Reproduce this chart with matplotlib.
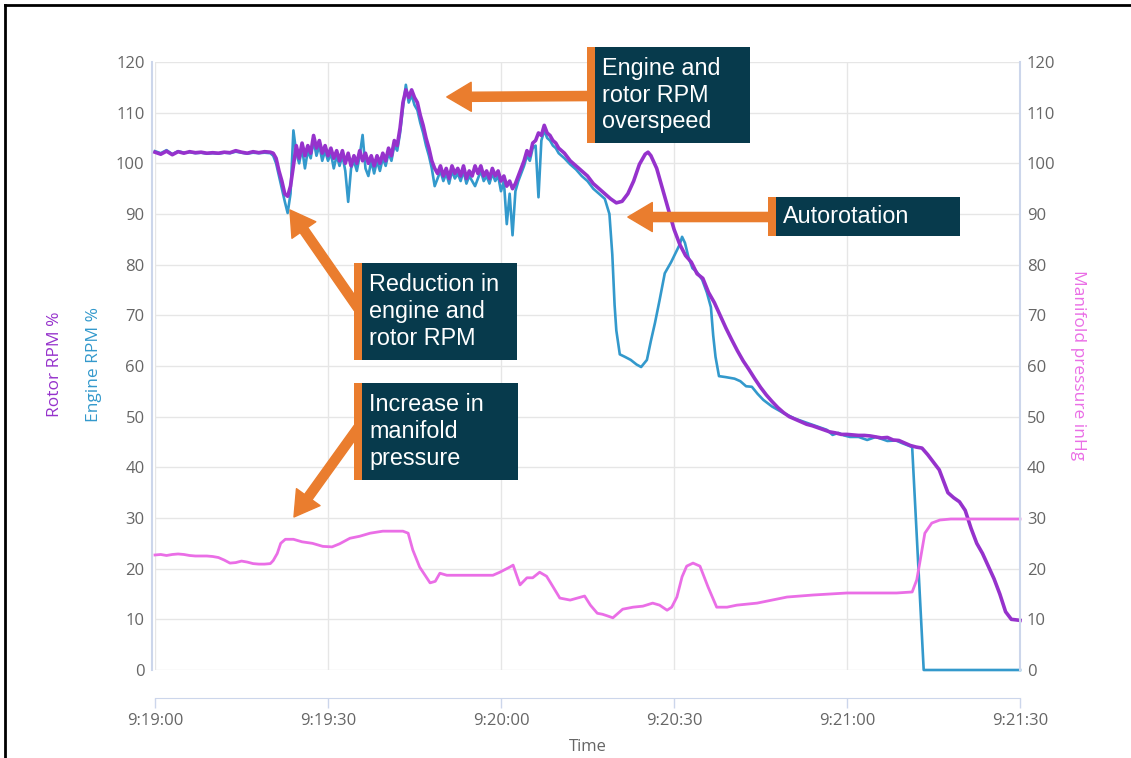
import matplotlib.pyplot as plt
from matplotlib.transforms import Affine2D
from matplotlib.patches import Rectangle
from matplotlib.lines import Line2D

# time is seconds after 9:19:00
rotor = [
    (0, 102.2), (1, 101.8), (2, 102.4), (3, 101.7), (4, 102.3), (5, 102.0), (6, 102.3),
    (7, 102.1), (8, 102.2), (9, 102.0), (10, 102.1), (11, 102.0), (12, 102.2), (13, 102.1),
    (14, 102.5), (15, 102.2), (16, 102.0), (17, 102.3), (18, 102.1), (19, 102.3), (20, 102.2),
    (20.5, 102.0), (21, 101.0), (21.5, 98.5), (22, 96.5), (22.5, 94.0), (23, 93.5), (23.5, 95.5),
    (24, 99.5), (24.5, 103.5), (25, 101.0), (25.5, 104.0), (26, 101.5), (26.5, 103.5),
    (27, 102.0), (27.5, 105.5), (28, 103.0), (28.5, 104.5), (29, 102.0), (29.5, 103.5),
    (30, 101.5), (30.5, 103.0), (31, 101.0), (31.5, 102.5), (32, 100.5), (32.5, 102.5),
    (33, 100.0), (33.5, 102.0), (34, 99.5), (34.5, 101.5), (35, 100.0), (35.5, 102.5),
    (36, 100.5), (36.5, 102.0), (37, 100.0), (37.5, 101.5), (38, 99.5), (38.5, 101.5),
    (39, 100.0), (39.5, 102.0), (40, 100.5), (40.5, 103.0), (41, 101.5), (41.5, 104.5),
    (42, 103.5), (42.5, 107.0), (43, 112.0), (43.5, 114.5), (44, 113.0), (44.5, 114.5),
    (45, 113.0), (45.5, 112.0), (46, 109.5), (46.5, 107.5), (47, 105.0), (47.5, 103.0),
    (48, 100.5), (48.5, 99.0), (49, 98.0), (49.5, 99.5), (50, 97.5), (50.5, 99.0),
    (51, 97.0), (51.5, 99.5), (52, 98.0), (52.5, 99.0), (53, 97.5), (53.5, 99.5),
    (54, 97.0), (54.5, 98.5), (55, 97.5), (55.5, 99.5), (56, 98.0), (56.5, 99.5),
    (57, 97.5), (57.5, 98.5), (58, 97.0), (58.5, 99.0), (59, 97.5), (59.5, 98.5),
    (60, 96.5), (60.5, 97.5), (61, 95.5), (61.5, 96.5), (62, 95.0), (62.5, 96.0),
    (63, 97.5), (63.5, 99.0), (64, 100.5), (64.5, 102.5), (65, 101.5), (65.5, 104.0),
    (66, 104.5), (66.5, 106.0), (67, 105.5), (67.5, 107.5), (68, 106.0), (68.5, 105.5),
    (69, 104.5), (69.5, 104.0), (70, 103.0), (71, 102.0), (72, 100.5), (73, 99.5),
    (74, 98.5), (75, 97.5), (76, 96.0), (77, 95.0), (78, 94.0), (79, 93.0), (80, 92.2),
    (81, 92.5), (82, 94.0), (83, 96.5), (84, 99.8), (85, 101.8), (85.5, 102.2), (86, 101.5),
    (87, 99.0), (88, 95.0), (89, 91.0), (90, 87.0), (91, 84.0), (92, 81.8), (93, 80.5),
    (94, 78.2), (95, 77.3), (96, 74.5), (97, 72.5), (98, 70.0), (99, 67.5), (100, 65.2),
    (101, 63.0), (102, 61.0), (103, 59.3), (104, 57.5), (105, 55.8), (106, 54.3),
    (107, 53.0), (108, 51.8), (109, 50.8), (110, 50.0), (111, 49.5), (112, 49.0),
    (113, 48.5), (114, 48.2), (115, 47.8), (116, 47.4), (117, 47.0), (118, 46.8),
    (119, 46.5), (120, 46.5), (121, 46.4), (122, 46.3), (123, 46.3), (124, 46.2),
    (125, 46.0), (126, 45.8), (127, 45.9), (128, 45.4), (129, 45.3), (130, 44.8),
    (131, 44.3), (132, 44.0), (133, 43.8), (134, 42.5), (135, 41.0), (136, 39.5),
    (137, 36.5), (137.5, 35.0), (138.5, 34.0), (139.5, 33.2), (140.5, 31.5), (141.5, 28.0),
    (142.5, 25.0), (143.5, 23.0), (144.5, 20.5), (145.5, 18.0), (146.5, 15.0),
    (147.5, 11.5), (148.5, 10.0), (150, 9.8),
]

engine = [
    (0, 102.4), (1, 102.0), (2, 102.6), (3, 101.8), (4, 102.4), (5, 102.1), (6, 102.2),
    (7, 102.0), (8, 102.1), (9, 101.9), (10, 102.0), (11, 101.9), (12, 102.1), (13, 102.0),
    (14, 102.3), (15, 102.1), (16, 101.9), (17, 102.1), (18, 102.0), (19, 102.1),
    (20, 102.0), (20.5, 101.5), (21, 100.0), (21.5, 97.5), (22, 95.0), (22.5, 92.5),
    (23, 90.2), (23.5, 94.0), (24, 106.5), (24.5, 102.0), (25, 100.0), (25.5, 103.0),
    (26, 99.0), (26.5, 102.5), (27, 101.0), (27.5, 104.5), (28, 101.5), (28.5, 103.5),
    (29, 100.5), (29.5, 102.5), (30, 100.5), (30.5, 102.0), (31, 99.0), (31.5, 101.5),
    (32, 99.5), (32.5, 101.5), (33, 98.5), (33.5, 92.4), (34, 99.0), (34.5, 100.5),
    (35, 98.5), (35.5, 101.5), (36, 105.6), (36.5, 99.0), (37, 97.5), (37.5, 100.5),
    (38, 98.0), (38.5, 100.5), (39, 98.5), (39.5, 101.0), (40, 99.5), (40.5, 102.0),
    (41, 100.5), (41.5, 103.5), (42, 102.5), (42.5, 106.0), (43, 111.0), (43.5, 115.5),
    (44, 112.0), (44.5, 113.5), (45, 111.5), (45.5, 110.5), (46, 108.0), (46.5, 106.0),
    (47, 103.5), (47.5, 101.5), (48, 99.0), (48.5, 95.5), (49, 97.0), (49.5, 98.5),
    (50, 96.5), (50.5, 98.0), (51, 96.0), (51.5, 98.5), (52, 97.0), (52.5, 98.0),
    (53, 96.5), (53.5, 98.5), (54, 96.0), (54.5, 97.5), (55, 96.5), (55.5, 95.5),
    (56, 97.0), (56.5, 98.5), (57, 96.5), (57.5, 97.5), (58, 96.0), (58.5, 98.0),
    (59, 96.5), (59.5, 97.5), (60, 94.5), (60.5, 96.5), (61, 88.0), (61.5, 94.0),
    (62, 85.8), (62.5, 94.5), (63, 96.5), (63.5, 98.0), (64, 99.5), (64.5, 101.5),
    (65, 100.5), (65.5, 103.0), (66, 103.5), (66.5, 93.3), (67, 104.5), (67.5, 106.5),
    (68, 105.0), (68.5, 104.5), (69, 103.5), (69.5, 103.0), (70, 102.0), (71, 101.0),
    (72, 99.8), (73, 98.8), (74, 97.5), (75, 96.5), (76, 95.0), (77, 94.0), (78, 93.0),
    (78.8, 90.0), (79.3, 82.0), (79.7, 72.0), (80, 67.0), (80.6, 62.3), (81.5, 61.8),
    (82.5, 61.2), (83.5, 60.3), (84.3, 59.8), (85.3, 61.2), (86, 65.0), (86.7, 68.5),
    (87.5, 73.0), (88.4, 78.3), (89.5, 80.5), (90.1, 81.9), (91, 84.0), (91.4, 85.5),
    (91.9, 84.3), (92.5, 81.5), (93.2, 79.3), (94, 78.5), (94.9, 77.0), (95.7, 74.5),
    (96.4, 71.6), (96.8, 66.0), (97.2, 61.8), (97.8, 58.0), (99, 57.8), (100.5, 57.5),
    (101.5, 57.0), (102.5, 56.0), (103.5, 55.9), (104.5, 54.5), (105.5, 53.3),
    (107, 52.0), (109, 50.7), (111, 49.6), (113, 48.8), (115, 48.0), (116.5, 47.4),
    (117.5, 46.4), (118.5, 46.8), (119.5, 46.3), (120.5, 46.0), (122, 46.0),
    (123.5, 45.4), (125, 46.0), (126, 45.6), (127, 45.2), (128.5, 45.3), (129.5, 44.8),
    (131.3, 44.0), (133.3, 0.0), (150, 0.0),
]

manifold = [
    (0, 22.7), (1, 22.8), (2, 22.6), (3, 22.8), (4, 22.9), (5, 22.8), (6, 22.6), (7, 22.5),
    (8, 22.5), (9, 22.5), (10, 22.4), (11, 22.2), (12, 21.7), (13, 21.1), (14, 21.2),
    (15, 21.5), (16, 21.3), (17, 21.0), (18, 20.9), (19, 20.9), (20, 21.0), (20.5, 21.6),
    (21.2, 23.0), (21.8, 25.0), (22.6, 25.8), (24, 25.8), (25.5, 25.3), (27.3, 25.0),
    (29.1, 24.4), (30.7, 24.3), (32, 24.9), (33.8, 26.0), (35.5, 26.4), (37.3, 27.0),
    (39.5, 27.4), (43, 27.4), (43.9, 27.0), (44.7, 23.7), (45.9, 20.3), (47.7, 17.2),
    (48.6, 17.5), (49.4, 19.1), (50.6, 18.7), (58.6, 18.7), (59.8, 19.3), (61.5, 20.3),
    (62.1, 20.7), (62.8, 18.4), (63.3, 16.8), (64.5, 18.2), (65.5, 18.2), (66.7, 19.3),
    (67.9, 18.5), (68.5, 17.4), (70.2, 14.2), (72, 13.8), (74.5, 14.6), (75.5, 12.8),
    (76.7, 11.2), (77.6, 11.0), (78.4, 10.7), (79.4, 10.3), (81.1, 12.0), (82.9, 12.4),
    (84.6, 12.6), (86.3, 13.2), (87.5, 12.8), (88.8, 11.8), (89.6, 12.4), (90.5, 14.4),
    (91.4, 18.4), (92.2, 20.5), (93.3, 21.1), (94.5, 20.5), (95.9, 16.4), (97.4, 12.4),
    (99.2, 12.4), (100.9, 12.8), (104.4, 13.2), (109.6, 14.4), (114.1, 14.8),
    (120, 15.2), (128.6, 15.2), (131.3, 15.4), (132.1, 17.8), (132.7, 21.7),
    (133.5, 27.0), (134.7, 29.0), (136.1, 29.6), (138, 29.8), (150, 29.8),
]

x_ticks = [0, 30, 60, 90, 120, 150]
x_labels = ['9:19:00', '9:19:30', '9:20:00', '9:20:30', '9:21:00', '9:21:30']
y_ticks = list(range(0, 121, 10))

# callouts: text, box (x0, y0, x1, y1) in pixels from top-left, arrow tail px, arrow tip (time, value)
callouts = [
    ('Engine and\nrotor RPM\noverspeed', (587, 47, 750, 143), (592, 96), (50.6, 113.1)),
    ('Autorotation', (768, 197, 960, 236), (772, 217), (82.0, 89.4)),
    ('Reduction in\nengine and\nrotor RPM', (354, 263, 517, 360), (358, 308), (23.4, 90.8)),
    ('Increase in\nmanifold\npressure', (354, 383, 518, 480), (358, 428), (24.1, 30.2)),
]

W, H = 1131, 758
rotor_c = '#9632cc'
engine_c = '#3399cc'
map_c = '#ea6ee6'
axis_c = '#ccd6eb'
grid_c = '#e6e6e6'
text_c = '#666666'
box_c = '#073a4c'
orange = '#ea7d2e'

plt.rcParams['font.family'] = ['Open Sans', 'DejaVu Sans']

fig = plt.figure(figsize=(W / 100, H / 100), dpi=100)
ax = fig.add_axes([155 / W, 1 - 670 / H, (1020 - 155) / W, (670 - 62) / H])
ax2 = ax.twinx()

et, ev = zip(*engine)
rt, rv = zip(*rotor)
mt, mv = zip(*manifold)
ax.plot(et, ev, color=engine_c, lw=1.9, clip_on=False, zorder=3)
ax.plot(rt, rv, color=rotor_c, lw=2.6, clip_on=False, zorder=4)
ax2.plot(mt, mv, color=map_c, lw=2.0, clip_on=False)

for a in (ax, ax2):
    a.set_xlim(0, 150)
    a.set_ylim(0, 120)
    a.set_yticks(y_ticks)
    a.tick_params(axis='y', length=0, labelsize=12, labelcolor=text_c, pad=5)
    a.spines['top'].set_visible(False)

ax.set_xticks(x_ticks)
ax.set_xticklabels(x_labels)
ax.tick_params(axis='x', length=7, width=1, color=axis_c, labelsize=12, labelcolor=text_c, pad=4)
ax.grid(True, color=grid_c, lw=1)
ax.set_axisbelow(True)

ax.spines['bottom'].set_position(('outward', 20))
ax.spines['bottom'].set_color(axis_c)
ax.spines['left'].set_position(('outward', 2.5))
ax.spines['left'].set_color(axis_c)
ax.spines['left'].set_linewidth(1.5)
ax.spines['right'].set_visible(False)
ax2.spines['left'].set_visible(False)
ax2.spines['bottom'].set_visible(False)
ax2.spines['right'].set_color(axis_c)
ax2.spines['right'].set_linewidth(1.5)

ax.set_xlabel('Time', fontsize=12, color=text_c, labelpad=7)

fig.text(55 / W, 1 - 364 / H, 'Rotor RPM %', rotation=90, color=rotor_c,
         fontsize=12.5, ha='center', va='center')
fig.text(94 / W, 1 - 364 / H, 'Engine RPM %', rotation=90, color=engine_c,
         fontsize=12.5, ha='center', va='center')
fig.text(1078 / W, 1 - 365 / H, 'Manifold pressure inHg', rotation=270, color=map_c,
         fontsize=12.5, ha='center', va='center')

# pixel coordinates, origin top-left
px = Affine2D().scale(1 / W, -1 / H).translate(0, 1) + fig.transFigure

for text, (x0, y0, x1, y1), (tx, ty), tip in callouts:
    ax.annotate('', xy=tip, xycoords='data', xytext=(tx, H - ty), textcoords='figure pixels',
                arrowprops=dict(arrowstyle='simple,head_length=0.8,head_width=0.95,tail_width=0.3',
                                mutation_scale=22, color=orange, shrinkA=0, shrinkB=0),
                zorder=6)
    fig.patches.append(Rectangle((x0, y0), x1 - x0, y1 - y0, transform=px,
                                 facecolor=box_c, edgecolor='none', zorder=7))
    fig.patches.append(Rectangle((x0, y0), 8, y1 - y0, transform=px,
                                 facecolor=orange, edgecolor='none', zorder=8))
    fig.text((x0 + 15) / W, 1 - (y0 + y1) / 2 / H, text, color='white', fontsize=16.8,
             family=['Liberation Sans', 'DejaVu Sans'], ha='left', va='center',
             linespacing=1.2, zorder=9)

# page frame
fig.add_artist(Line2D([5, 5], [5, H], transform=px, color='black', lw=2))
fig.add_artist(Line2D([5, W], [5, 5], transform=px, color='black', lw=2))

fig.savefig('out.png', dpi=100, facecolor='white')
